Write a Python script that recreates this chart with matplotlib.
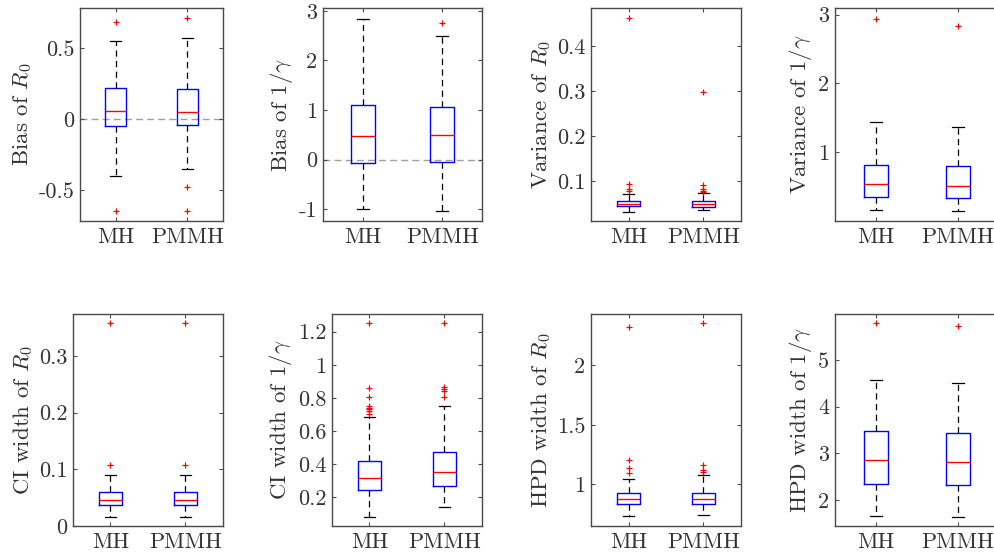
import matplotlib
matplotlib.use("Agg")
import matplotlib.pyplot as plt
from matplotlib.ticker import FuncFormatter

plt.rcParams['font.family'] = 'cmr10'
plt.rcParams['mathtext.fontset'] = 'cm'
plt.rcParams['axes.unicode_minus'] = False
plt.rcParams['axes.formatter.use_mathtext'] = True

methods = ['MH', 'PMMH']

ylabels = [r'Bias of $R_0$', r'Bias of $1/\gamma$', r'Variance of $R_0$', r'Variance of $1/\gamma$',
           r'CI width of $R_0$', r'CI width of $1/\gamma$', r'HPD width of $R_0$', r'HPD width of $1/\gamma$']

# box statistics for [MH, PMMH] in each panel
medians = [[0.058, 0.047], [0.47, 0.49], [0.050, 0.050], [0.545, 0.507],
           [0.0459, 0.0459], [0.318, 0.351], [0.874, 0.876], [2.86, 2.82]]
q1s = [[-0.049, -0.044], [-0.06, -0.05], [0.0444, 0.0436], [0.348, 0.333],
       [0.0365, 0.0365], [0.242, 0.266], [0.832, 0.835], [2.34, 2.31]]
q3s = [[0.22, 0.209], [1.11, 1.06], [0.057, 0.0556], [0.82, 0.797],
       [0.0594, 0.0594], [0.421, 0.473], [0.924, 0.931], [3.48, 3.44]]
whis_lo = [[-0.40, -0.35], [-1.0, -1.03], [0.0325, 0.0356], [0.159, 0.145],
           [0.0165, 0.0165], [0.083, 0.14], [0.731, 0.745], [1.66, 1.64]]
whis_hi = [[0.547, 0.568], [2.83, 2.49], [0.071, 0.0747], [1.435, 1.371],
           [0.09, 0.09], [0.683, 0.751], [1.045, 1.076], [4.57, 4.5]]
fliers = [
    [[0.683, -0.646], [0.709, -0.479, -0.646]],
    [[], [2.75]],
    [[0.462, 0.094, 0.082, 0.079], [0.298, 0.0925, 0.082, 0.079, 0.077]],
    [[2.936], [2.84]],
    [[0.3575, 0.107], [0.3575, 0.107]],
    [[1.25, 0.861, 0.803, 0.751, 0.741, 0.731, 0.723, 0.703], [1.25, 0.864, 0.854, 0.843, 0.803]],
    [[2.32, 1.204, 1.14, 1.092], [2.353, 1.16, 1.12, 1.103]],
    [[5.79], [5.74]],
]

ylims = [(-0.716, 0.78), (-1.23, 3.05), (0.0125, 0.484), (0.01, 3.09),
         (0, 0.374), (0.027, 1.307), (0.65, 2.43), (1.44, 5.99)]
yticks = [[-0.5, 0, 0.5], [-1, 0, 1, 2, 3], [0.1, 0.2, 0.3, 0.4], [1, 2, 3],
          [0, 0.1, 0.2, 0.3], [0.2, 0.4, 0.6, 0.8, 1, 1.2], [1, 1.5, 2], [2, 3, 4, 5]]
zero_line = [True, True, False, False, False, False, False, False]

W, H = 995, 556
# axes boxes in pixels: left, top, width, height
boxes_px = [(80, 8.3, 143, 212.4), (323, 8.3, 159, 212.4), (591, 8.3, 150, 212.4), (835, 8.3, 164, 212.4),
            (73, 314, 150, 212), (332, 314, 150, 212), (591, 314, 150, 212), (835, 314, 164, 212)]

fig = plt.figure(figsize=(W / 100, H / 100), dpi=100)
axcol = '#4a4a4a'
txtcol = '#333333'

for i in range(8):
    l, t, w, h = boxes_px[i]
    ax = fig.add_axes([l / W, 1 - (t + h) / H, w / W, h / H])
    stats = []
    for j in range(2):
        stats.append(dict(med=medians[i][j], q1=q1s[i][j], q3=q3s[i][j],
                          whislo=whis_lo[i][j], whishi=whis_hi[i][j],
                          fliers=fliers[i][j], label=methods[j]))
    if zero_line[i]:
        ax.axhline(0, color='#a0a0a0', lw=1.0, ls=(0, (5, 3)), zorder=1)
    ax.bxp(stats, positions=[1, 2], widths=0.3, capwidths=0.15,
           boxprops=dict(color='blue', lw=1.0),
           medianprops=dict(color='red', lw=1.0),
           whiskerprops=dict(color='black', lw=0.9, ls=(0, (5, 3.5))),
           capprops=dict(color='black', lw=0.9),
           flierprops=dict(marker='+', markeredgecolor='red', markersize=5, markeredgewidth=0.9, ls='none'))
    ax.set_xlim(0.5, 2.5)
    ax.set_ylim(*ylims[i])
    ax.set_yticks(yticks[i])
    ax.yaxis.set_major_formatter(FuncFormatter(lambda v, p: '%g' % v))
    ax.set_xticks([1, 2])
    ax.set_xticklabels(methods)
    ax.tick_params(direction='in', top=True, right=True, length=3, width=0.8,
                   color=axcol, labelcolor=txtcol, labelsize=16, pad=4)
    ax.tick_params(axis='x', pad=5)
    for s in ax.spines.values():
        s.set_color(axcol)
        s.set_linewidth(1.0)
    ax.set_ylabel(ylabels[i], fontsize=16.5, color=txtcol, labelpad=3)

fig.savefig('out.png', dpi=100)
